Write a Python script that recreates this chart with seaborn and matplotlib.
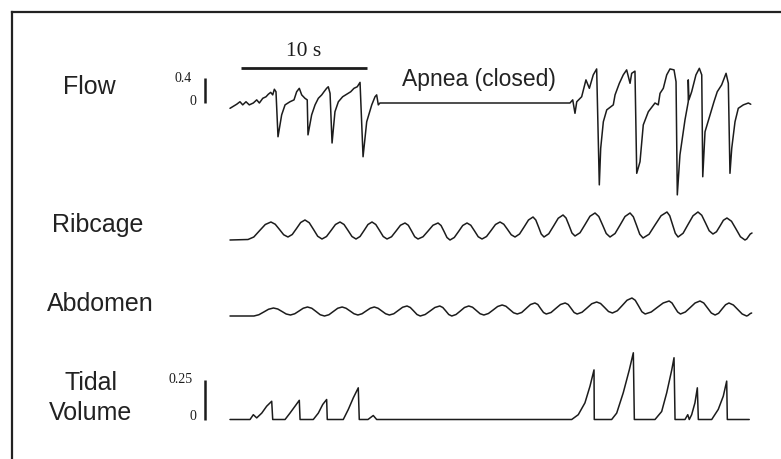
"""
Breathing recording around an obstructive apnea: flow, ribcage, abdomen and
tidal volume traces on one shared time axis.
"""

import matplotlib
matplotlib.use("Agg")
import matplotlib.pyplot as plt
import seaborn as sns

W, H = 781, 459
PX_PER_S = 12.6      # horizontal scale of the recording
T0_PX = 230          # pixel column where the traces start

# ---- data (time in s) -------------------------------------------------------
# Flow, L/s
flow_t = [0.00, 0.53, 0.79, 1.01, 1.27, 1.53, 1.85, 2.12, 2.33, 2.60, 2.86, 3.04,
          3.23, 3.39, 3.52, 3.65,
          3.81, 4.10, 4.37, 4.76, 5.08, 5.29, 5.50, 5.69, 5.95, 6.13,
          6.19, 6.48, 6.75, 7.01, 7.28, 7.46, 7.67, 7.80, 7.94,
          8.10, 8.33, 8.60, 8.94, 9.26, 9.58, 9.84, 10.10, 10.32,
          10.56, 10.85, 11.25, 11.51, 11.64, 11.77, 11.90,
          26.98,
          27.20, 27.38, 27.52, 27.91, 28.25, 28.52, 28.83, 29.10,
          29.31, 29.42, 29.63, 29.90, 30.42, 30.56, 30.90, 31.21, 31.48, 31.75,
          31.88, 32.14,
          32.28, 32.54, 32.80, 33.20, 33.73, 33.99, 34.13, 34.39, 34.66, 34.92,
          35.24, 35.40,
          35.50, 35.71, 36.11, 36.37, 36.37, 36.42, 36.64, 36.98, 37.25, 37.44,
          37.52, 37.70, 38.10, 38.41, 38.67, 39.02, 39.37, 39.55,
          39.68, 39.82, 40.08, 40.34, 40.74, 41.14, 41.33]
flow_v = [-0.085, -0.02, 0.02, -0.03, 0.02, -0.03, 0.00, 0.05, 0.00, 0.075, 0.10, 0.14,
          0.17, 0.13, 0.22, 0.18,
          -0.54, -0.19, -0.03, 0.02, 0.05, 0.18, 0.235, 0.13, 0.075, 0.05,
          -0.51, -0.19, -0.03, 0.075, 0.13, 0.18, 0.235, 0.26, 0.155,
          -0.64, -0.14, 0.02, 0.10, 0.14, 0.18, 0.235, 0.26, 0.33,
          -0.86, -0.30, -0.03, 0.10, 0.13, -0.03, 0.00,
          0.00,
          0.05, -0.165, 0.02, 0.10, 0.37, 0.235, 0.45, 0.545,
          -1.31, -0.725, -0.30, -0.11, -0.03, 0.13, 0.315, 0.45, 0.53, 0.315,
          0.475, 0.51,
          -1.125, -0.94, -0.35, -0.14, 0.00, -0.03, 0.155, 0.235, 0.45, 0.545,
          0.53, 0.34,
          -1.47, -0.83, -0.27, 0.02, 0.37, 0.05, 0.18, 0.45, 0.555, 0.45,
          -1.18, -0.46, -0.19, 0.02, 0.18, 0.29, 0.475, 0.315,
          -1.125, -0.725, -0.30, -0.085, -0.03, 0.00, -0.02]

# Ribcage excursion, a.u.
rib_t = [0.00, 1.43, 1.89, 2.34, 2.80, 3.25, 3.59, 3.93, 4.26, 4.60,
         4.94, 5.28, 5.61, 5.95, 6.29, 6.63, 6.96, 7.30,
         7.66, 8.02, 8.37, 8.73, 9.05, 9.37, 9.68, 10.00,
         10.32, 10.64, 10.95, 11.27, 11.57, 11.87, 12.16, 12.46,
         12.82, 13.18, 13.53, 13.89, 14.15, 14.41, 14.66, 14.92,
         15.32, 15.72, 16.11, 16.51, 16.75, 16.99, 17.22, 17.46,
         17.80, 18.14, 18.47, 18.81, 19.11, 19.41, 19.70, 20.00,
         20.36, 20.72, 21.07, 21.43, 21.73, 22.03, 22.32, 22.62,
         22.98, 23.34, 23.69, 24.05, 24.27, 24.49, 24.70, 24.92,
         25.30, 25.68, 26.05, 26.43, 26.67, 26.91, 27.14, 27.38,
         27.78, 28.18, 28.57, 28.97, 29.27, 29.57, 29.86, 30.16,
         30.56, 30.96, 31.35, 31.75, 32.01, 32.27, 32.52, 32.78,
         33.26, 33.73, 34.21, 34.68, 34.90, 35.12, 35.34, 35.56,
         35.96, 36.35, 36.75, 37.14, 37.44, 37.74, 38.03, 38.33,
         38.61, 38.89, 39.16, 39.44, 39.80, 40.16, 40.51, 40.87,
         41.01, 41.15, 41.29, 41.43]
rib_v = [0.00, 0.02, 0.12, 0.37, 0.62, 0.72, 0.63, 0.42, 0.21, 0.12,
         0.22, 0.46, 0.70, 0.80, 0.69, 0.42, 0.15, 0.04,
         0.14, 0.38, 0.62, 0.72, 0.62, 0.38, 0.14, 0.04,
         0.14, 0.38, 0.62, 0.72, 0.62, 0.38, 0.14, 0.04,
         0.13, 0.36, 0.59, 0.68, 0.59, 0.36, 0.13, 0.04,
         0.13, 0.36, 0.59, 0.68, 0.58, 0.34, 0.10, 0.00,
         0.10, 0.34, 0.58, 0.68, 0.59, 0.36, 0.13, 0.04,
         0.14, 0.38, 0.62, 0.72, 0.63, 0.42, 0.21, 0.12,
         0.24, 0.52, 0.80, 0.92, 0.80, 0.52, 0.24, 0.12,
         0.25, 0.56, 0.87, 1.00, 0.88, 0.58, 0.28, 0.16,
         0.29, 0.62, 0.95, 1.08, 0.94, 0.60, 0.26, 0.12,
         0.26, 0.60, 0.94, 1.08, 0.93, 0.58, 0.23, 0.08,
         0.23, 0.60, 0.97, 1.12, 0.97, 0.62, 0.27, 0.12,
         0.27, 0.62, 0.97, 1.12, 0.99, 0.68, 0.37, 0.24,
         0.33, 0.56, 0.79, 0.88, 0.75, 0.44, 0.13, 0.00,
         0.04, 0.14, 0.24, 0.28]

# Abdominal excursion, a.u.
abd_t = [0.00, 1.90, 2.29, 2.68, 3.06, 3.45, 3.79, 4.13, 4.46, 4.80,
         5.14, 5.48, 5.81, 6.15, 6.49, 6.83, 7.16, 7.50,
         7.85, 8.20, 8.55, 8.90, 9.21, 9.53, 9.84, 10.15,
         10.48, 10.80, 11.13, 11.45, 11.75, 12.05, 12.35, 12.65,
         13.00, 13.35, 13.70, 14.05, 14.31, 14.58, 14.84, 15.10,
         15.49, 15.88, 16.26, 16.65, 16.89, 17.13, 17.36, 17.60,
         17.94, 18.28, 18.61, 18.95, 19.25, 19.55, 19.85, 20.15,
         20.51, 20.88, 21.24, 21.60, 21.90, 22.20, 22.50, 22.80,
         23.15, 23.50, 23.85, 24.20, 24.43, 24.65, 24.88, 25.10,
         25.48, 25.85, 26.23, 26.60, 26.84, 27.08, 27.31, 27.55,
         27.94, 28.33, 28.71, 29.10, 29.41, 29.73, 30.04, 30.35,
         30.74, 31.13, 31.51, 31.90, 32.16, 32.43, 32.69, 32.95,
         33.43, 33.90, 34.38, 34.85, 35.08, 35.30, 35.53, 35.75,
         36.14, 36.53, 36.91, 37.30, 37.60, 37.90, 38.20, 38.50,
         38.78, 39.05, 39.33, 39.60, 39.95, 40.30, 40.65, 41.00,
         41.10, 41.20, 41.30, 41.40]
abd_v = [0.00, 0.00, 0.05, 0.16, 0.27, 0.32, 0.28, 0.18, 0.08, 0.04,
         0.09, 0.20, 0.31, 0.36, 0.31, 0.18, 0.05, 0.00,
         0.05, 0.18, 0.31, 0.36, 0.31, 0.20, 0.09, 0.04,
         0.09, 0.20, 0.31, 0.36, 0.31, 0.20, 0.09, 0.04,
         0.09, 0.22, 0.35, 0.40, 0.34, 0.20, 0.06, 0.00,
         0.06, 0.20, 0.34, 0.40, 0.34, 0.20, 0.06, 0.00,
         0.06, 0.20, 0.34, 0.40, 0.35, 0.22, 0.09, 0.04,
         0.10, 0.24, 0.38, 0.44, 0.39, 0.26, 0.13, 0.08,
         0.14, 0.30, 0.46, 0.52, 0.46, 0.30, 0.14, 0.08,
         0.14, 0.30, 0.46, 0.52, 0.46, 0.30, 0.14, 0.08,
         0.15, 0.32, 0.49, 0.56, 0.50, 0.34, 0.18, 0.12,
         0.21, 0.42, 0.63, 0.72, 0.63, 0.40, 0.17, 0.08,
         0.16, 0.34, 0.52, 0.60, 0.52, 0.34, 0.16, 0.08,
         0.16, 0.34, 0.52, 0.60, 0.52, 0.32, 0.12, 0.04,
         0.11, 0.28, 0.45, 0.52, 0.44, 0.26, 0.08, 0.00,
         0.02, 0.06, 0.10, 0.12]

# Tidal volume, L
vt_t = [0.00, 1.59, 1.85, 2.12, 2.52, 2.91, 3.31, 3.39,
        4.37, 4.76, 5.16, 5.50, 5.56,
        6.61, 7.01, 7.36, 7.67, 7.72,
        8.99, 9.39, 9.79, 10.18, 10.26,
        10.95, 11.37, 11.64,
        27.12, 27.64, 28.17, 28.57, 28.89, 28.91,
        30.29, 30.69, 31.21, 31.69, 32.01, 32.09,
        33.73, 34.26, 34.66, 35.06, 35.24, 35.32,
        36.11, 36.33, 36.45, 36.64, 36.90, 37.09, 37.17,
        38.23, 38.75, 39.15, 39.42, 39.47, 41.21]
vt_v = [0.00, 0.00, 0.03, 0.01, 0.04, 0.083, 0.114, 0.00,
        0.00, 0.04, 0.083, 0.12, 0.00,
        0.00, 0.04, 0.094, 0.125, 0.00,
        0.00, 0.063, 0.136, 0.198, 0.00,
        0.00, 0.025, 0.00,
        0.00, 0.03, 0.104, 0.208, 0.31, 0.00,
        0.00, 0.04, 0.167, 0.31, 0.417, 0.00,
        0.00, 0.05, 0.167, 0.31, 0.386, 0.00,
        0.00, 0.03, 0.00, 0.03, 0.104, 0.198, 0.00,
        0.00, 0.063, 0.146, 0.24, 0.00, 0.00]

channel_labels = ["Flow", "Ribcage", "Abdomen", "Tidal\nVolume"]
flow_scale = [0, 0.4]
vt_scale = [0, 0.25]
time_bar = [0.87, 10.87]

# ---- style ------------------------------------------------------------------
sns.set_theme(style="white")
plt.rcParams["font.family"] = ["Liberation Sans", "DejaVu Sans"]
SERIF = ["Liberation Serif", "DejaVu Serif"]
INK = "#1c1c1c"

fig = plt.figure(figsize=(W / 100, H / 100), dpi=100)
fig.patch.set_facecolor("white")

# open frame (left and top edges only)
frame = fig.add_axes([12 / W, 0, 1 - 12 / W, 1 - 12 / H])
frame.set_xticks([])
frame.set_yticks([])
for side in ["right", "bottom"]:
    frame.spines[side].set_visible(False)
for side in ["left", "top"]:
    frame.spines[side].set_linewidth(1.6)
    frame.spines[side].set_color("#222222")
frame.set_facecolor("none")


def band(top_px, bottom_px, zero_px, px_per_unit):
    """Full-width axes for one channel with a fixed vertical gain."""
    ax = fig.add_axes([0, 1 - bottom_px / H, 1, (bottom_px - top_px) / H])
    ax.set_xlim(-T0_PX / PX_PER_S, (W - T0_PX) / PX_PER_S)
    ax.set_ylim((zero_px - bottom_px) / px_per_unit, (zero_px - top_px) / px_per_unit)
    ax.set_axis_off()
    ax.patch.set_alpha(0)
    return ax


def trace(ax, t, v):
    sns.lineplot(x=t, y=v, ax=ax, color=INK, lw=1.1, estimator=None, sort=False)


ax_flow = band(40, 210, 103, 62.5)
ax_rib = band(190, 260, 240, 25)
ax_abd = band(280, 330, 316, 25)
ax_vt = band(340, 440, 419.5, 160)

trace(ax_flow, flow_t, flow_v)
trace(ax_rib, rib_t, rib_v)
trace(ax_abd, abd_t, abd_v)
trace(ax_vt, vt_t, vt_v)

# calibration bars
bar_t = -2.0
lab_t = -3.0
ax_flow.plot([bar_t, bar_t], flow_scale, color=INK, lw=1.8, solid_capstyle="butt")
ax_flow.text(lab_t, flow_scale[1], "0.4", ha="right", va="center", fontsize=10, family=SERIF, color=INK)
ax_flow.text(-2.7, flow_scale[0] + 0.03, "0", ha="right", va="center", fontsize=10, family=SERIF, color=INK)
ax_vt.plot([bar_t, bar_t], vt_scale, color=INK, lw=1.8, solid_capstyle="butt")
ax_vt.text(lab_t, vt_scale[1], "0.25", ha="right", va="center", fontsize=10, family=SERIF, color=INK)
ax_vt.text(-2.7, vt_scale[0] + 0.02, "0", ha="right", va="center", fontsize=10, family=SERIF, color=INK)

# 10 s time bar
ax_flow.plot(time_bar, [0.568, 0.568], color=INK, lw=2.0, solid_capstyle="butt")
ax_flow.text(sum(time_bar) / 2, 0.83, "10 s", ha="center", va="center", fontsize=15.5, family=SERIF, color=INK)

ax_flow.text(13.65, 0.37, "Apnea (closed)", ha="left", va="center", fontsize=16.5, color="#222222")

# channel names
label_pos = [(63, 87), (52, 225), (47, 304), (91, 398)]
for name, (x, y) in zip(channel_labels, label_pos):
    if "\n" in name:
        fig.text(x / W, 1 - y / H, name, ha="center", va="center", fontsize=18,
                 color="#222222", linespacing=1.3)
    else:
        fig.text(x / W, 1 - y / H, name, ha="left", va="center", fontsize=18, color="#222222")

fig.savefig("out.png", dpi=100, facecolor="white")
